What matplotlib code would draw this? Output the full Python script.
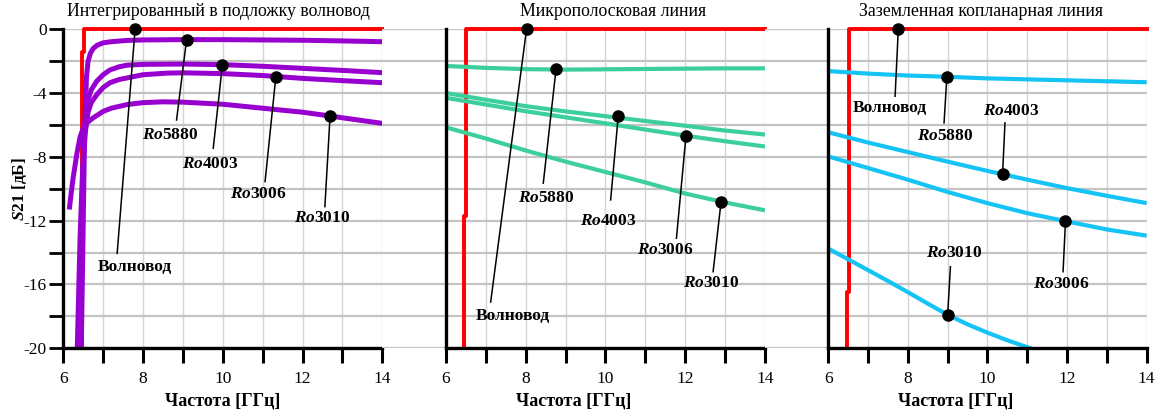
import matplotlib.pyplot as plt
from matplotlib.transforms import blended_transform_factory

plt.rcParams['font.family'] = 'Liberation Serif'
plt.rcParams['mathtext.fontset'] = 'custom'
plt.rcParams['mathtext.rm'] = 'Liberation Serif'
plt.rcParams['mathtext.it'] = 'Liberation Serif:italic'
plt.rcParams['mathtext.bf'] = 'Liberation Serif:bold'
plt.rcParams['mathtext.bfit'] = 'Liberation Serif:italic:bold'

titles = ['Интегрированный в подложку волновод', 'Микрополосковая линия',
          'Заземленная копланарная линия']

# --- panel 1: substrate integrated waveguide (purple) ---
wg1_f = [6.47, 6.47, 6.52, 6.52, 14]
wg1_s = [-20, -1.4, -1.4, 0, 0]

siw5880_f = [6.45, 6.5, 6.53, 6.56, 6.58, 6.62, 6.68, 6.75, 6.85, 7.0, 7.2, 7.6, 8, 9, 10, 11, 12, 13, 14]
siw5880_s = [-20, -12, -7, -4.5, -3, -2.0, -1.5, -1.2, -1.0, -0.85, -0.78, -0.7, -0.67, -0.65, -0.65, -0.67, -0.69, -0.73, -0.78]
siw4003_f = [6.4, 6.45, 6.5, 6.55, 6.62, 6.7, 6.84, 7.0, 7.17, 7.4, 7.6, 8, 9, 10, 11, 12, 13, 14]
siw4003_s = [-20, -13, -8, -5.8, -4.4, -3.8, -3.25, -2.85, -2.55, -2.35, -2.25, -2.2, -2.18, -2.22, -2.32, -2.45, -2.58, -2.72]
siw3006_f = [6.35, 6.42, 6.48, 6.55, 6.62, 6.7, 6.84, 7.0, 7.17, 7.4, 7.6, 8, 8.6, 9, 10, 11, 12, 13, 14]
siw3006_s = [-20, -13, -9, -6.5, -5.2, -4.6, -4.1, -3.65, -3.35, -3.15, -3.05, -2.85, -2.75, -2.73, -2.78, -2.9, -3.08, -3.22, -3.35]
siw3010_f = [6.15, 6.2, 6.25, 6.34, 6.42, 6.5, 6.6, 6.75, 7.0, 7.2, 7.6, 8.0, 8.5, 9, 10, 11, 12, 12.7, 13, 14]
siw3010_s = [-11.3, -10.2, -9.25, -7.8, -6.75, -6.2, -5.85, -5.55, -5.15, -4.95, -4.72, -4.6, -4.55, -4.57, -4.7, -4.95, -5.2, -5.44, -5.55, -5.9]

# --- panel 2: microstrip (green) ---
wg2_f = [6.44, 6.44, 6.51, 6.51, 14]
wg2_s = [-20, -11.7, -11.7, 0, 0]
ms_f = [6, 7, 8, 9, 10, 11, 12, 13, 14]
ms5880 = [-2.3, -2.42, -2.5, -2.53, -2.51, -2.49, -2.47, -2.45, -2.45]
ms4003 = [-4.0, -4.42, -4.82, -5.15, -5.45, -5.75, -6.05, -6.35, -6.6]
ms3006 = [-4.3, -4.72, -5.14, -5.52, -5.9, -6.29, -6.67, -7.02, -7.35]
ms3010 = [-6.15, -6.85, -7.6, -8.3, -8.95, -9.6, -10.3, -10.86, -11.35]

# --- panel 3: grounded coplanar waveguide (blue) ---
wg3_f = [6.47, 6.47, 6.53, 6.53, 14]
wg3_s = [-20, -16.5, -16.5, 0, 0]
cpw_f = [6, 7, 8, 9, 10, 11, 12, 13, 14]
cpw5880 = [-2.62, -2.78, -2.9, -2.98, -3.08, -3.14, -3.2, -3.26, -3.32]
cpw4003 = [-6.46, -7.1, -7.7, -8.3, -8.88, -9.43, -9.96, -10.44, -10.9]
cpw3006 = [-7.97, -8.7, -9.43, -10.2, -10.9, -11.53, -12.05, -12.55, -12.94]
cpw3010_f = [6, 6.5, 7, 7.5, 8, 8.5, 9, 9.5, 10, 10.5, 11.2]
cpw3010_s = [-13.75, -14.42, -15.1, -15.78, -16.48, -17.2, -17.9, -18.5, -19.02, -19.5, -20.1]

# callouts: text, dot (f, s), line end (f, s), label centre (f, s)
notes1 = [('Волновод', 7.8, 0, 7.35, -14.05, 7.8, -14.9),
          ('Ro5880', 9.09, -0.67, 8.84, -5.69, 8.68, -6.63),
          ('Ro4003', 9.99, -2.22, 9.76, -7.46, 9.68, -8.42),
          ('Ro3006', 11.33, -2.97, 11.06, -9.55, 10.89, -10.33),
          ('Ro3010', 12.69, -5.44, 12.56, -11.12, 12.48, -11.85)]
notes2 = [('Волновод', 8.02, 0, 7.12, -17.1, 7.68, -18.0),
          ('Ro5880', 8.76, -2.5, 8.44, -9.65, 8.52, -10.55),
          ('Ro4003', 10.32, -5.45, 10.13, -10.7, 10.07, -12.0),
          ('Ro3006', 12.02, -6.67, 11.78, -13.1, 11.49, -13.84),
          ('Ro3010', 12.9, -10.8, 12.7, -15.2, 12.66, -15.9)]
notes3 = [('Волновод', 7.76, 0, 7.68, -4.2, 7.55, -4.93),
          ('Ro5880', 8.98, -2.98, 8.91, -5.87, 8.93, -6.71),
          ('Ro4003', 10.38, -9.1, 10.44, -5.87, 10.61, -5.14),
          ('Ro3006', 11.96, -12.05, 11.9, -15.2, 11.85, -15.97),
          ('Ro3010', 9.0, -17.9, 9.07, -14.89, 9.16, -14.05)]

fig = plt.figure(figsize=(11.62, 4.11), dpi=100)
bot, hgt = 0.1526, 0.7762
ax1 = fig.add_axes([0.0545, bot, 0.2745, hgt])
ax2 = fig.add_axes([0.3290, bot, 0.3293, hgt])
ax3 = fig.add_axes([0.6583, bot, 0.3285, hgt])
axes = [ax1, ax2, ax3]
xmins = [6, 4.402, 4.41]
title_x = [9.9, 10.2, 9.85]

for ax, t, xm, tx in zip(axes, titles, xmins, title_x):
    ax.set_xlim(xm, 14)
    ax.set_ylim(-20, 0)
    ax.set_xticks(range(6, 15))
    ax.set_xticklabels(['6', '', '8', '', '10', '', '12', '', '14'], fontsize=12.5)
    ax.set_yticks(range(-20, 1, 2))
    ax.grid(axis='x', color='#d4d4d4', lw=1.0, zorder=0)
    ax.grid(axis='y', color='#c4c4c4', lw=1.6, zorder=0)
    ax.set_axisbelow(True)
    for s in ['top', 'right']:
        ax.spines[s].set_visible(False)
    ax.spines['left'].set_position(('data', 6))
    ax.spines['bottom'].set_bounds(6, 14)
    for s in ['left', 'bottom']:
        ax.spines[s].set_linewidth(2.4)
        ax.spines[s].set_zorder(5)
    ax.tick_params(axis='x', direction='out', length=11, width=2.2, pad=5)
    trans = blended_transform_factory(ax.transData, ax.transAxes)
    ax.text(tx, 1.055, t, transform=trans, fontsize=12.8, ha='center', va='center')
    ax.set_xlabel('Частота [ГГц]', fontsize=13, fontweight='bold', labelpad=4)

ax1.set_yticklabels(['-20', '', '-16', '', '-12', '', '-8', '', '-4', '', '0'], fontsize=12.5)
ax1.tick_params(axis='y', direction='out', length=10, width=2.0, pad=2)
ax1.set_ylabel(r'$\mathbfit{S}$21 [дБ]', fontsize=12.5, fontweight='bold')
ax1.yaxis.set_label_coords(-0.108, 0.5)
for ax in [ax2, ax3]:
    ax.tick_params(axis='y', length=0, labelleft=False)

red = '#ff0000'
purple = '#9800d0'
green = '#3ccf9c'
blue = '#15c3f5'

ax1.plot(wg1_f, wg1_s, color=red, lw=2.8, clip_on=False, zorder=2)
for f, s in [(siw5880_f, siw5880_s), (siw4003_f, siw4003_s), (siw3006_f, siw3006_s), (siw3010_f, siw3010_s)]:
    ax1.plot(f, s, color=purple, lw=3.6, solid_capstyle='butt', zorder=3)

ax2.plot(wg2_f, wg2_s, color=red, lw=2.8, clip_on=False, zorder=2)
for s in [ms5880, ms4003, ms3006, ms3010]:
    ax2.plot(ms_f, s, color=green, lw=3.0, solid_capstyle='butt', zorder=3)

ax3.plot(wg3_f, wg3_s, color=red, lw=2.8, clip_on=False, zorder=2)
for s in [cpw5880, cpw4003, cpw3006]:
    ax3.plot(cpw_f, s, color=blue, lw=3.0, solid_capstyle='butt', zorder=3)
ax3.plot(cpw3010_f, cpw3010_s, color=blue, lw=3.0, solid_capstyle='butt', zorder=3)

for ax, notes in zip(axes, [notes1, notes2, notes3]):
    for txt, df, ds, ef, es, lf, ls in notes:
        ax.plot([df, ef], [ds, es], color='black', lw=1.1, zorder=6, clip_on=False)
        ax.plot(df, ds, 'o', color='black', ms=8, zorder=7, clip_on=False)
        if txt.startswith('Ro'):
            label = r'$\mathbfit{Ro}$' + txt[2:]
        else:
            label = txt
        ax.text(lf, ls, label, fontsize=12.5, fontweight='bold', ha='center', va='center', zorder=8)

fig.savefig('out.png', dpi=100)
